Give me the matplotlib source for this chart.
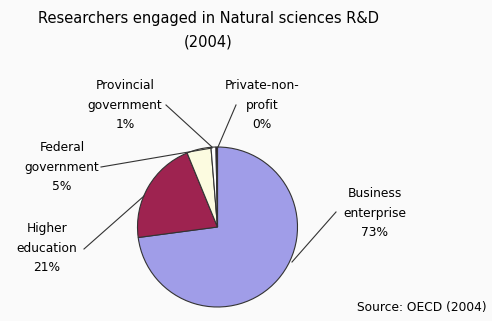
import matplotlib.pyplot as plt

# Researchers engaged in Natural sciences R&D (2004)
labels = ['Business\nenterprise\n73%', 'Higher\neducation\n21%', 'Federal\ngovernment\n5%',
          'Provincial\ngovernment\n1%', 'Private-non-\nprofit\n0%']
values = [72.9, 20.9, 4.9, 1.0, 0.3]
colors = ['#a09de8', '#9e2350', '#fcfbe0', '#ffffff', '#220022']

H = 321

def yy(y):
    # pixel row (from top) -> axes y
    return H - y

fig = plt.figure(figsize=(4.92, 3.21), dpi=100)
fig.patch.set_facecolor('#fafafa')
ax = fig.add_axes([0, 0, 1, 1])

cx, cy, r = 217.5, 227, 80
ax.pie(values, colors=colors, startangle=90, counterclock=False, center=(cx, yy(cy)), radius=r,
       wedgeprops=dict(edgecolor='#333333', linewidth=0.8))
ax.set_xlim(0, 492)
ax.set_ylim(0, H)
ax.set_aspect('equal')
ax.axis('off')

font = 'DejaVu Sans'
ax.text(208, yy(30), 'Researchers engaged in Natural sciences R&D\n(2004)', ha='center', va='center',
        fontsize=10.5, family=font, linespacing=1.7)

# label positions and leader line endpoints
lab_pos = [(375, 213), (47, 248), (62, 167), (125, 105), (262, 105)]
line_from = [(336, 212), (84, 249), (101, 167), (166, 105), (236, 105)]
line_to = [(292, 262), (144, 196), (212, 148), (212, 147), (218, 147)]

for lab, (x, y), p0, p1 in zip(labels, lab_pos, line_from, line_to):
    ax.text(x, yy(y), lab, ha='center', va='center', fontsize=8.8, family=font, linespacing=1.65)
    ax.plot([p0[0], p1[0]], [yy(p0[1]), yy(p1[1])], color='#333333', lw=0.8)

ax.text(487, yy(308), 'Source: OECD (2004)', ha='right', va='center', fontsize=8.8, family=font)

fig.savefig('out.png', dpi=100, facecolor=fig.get_facecolor())
